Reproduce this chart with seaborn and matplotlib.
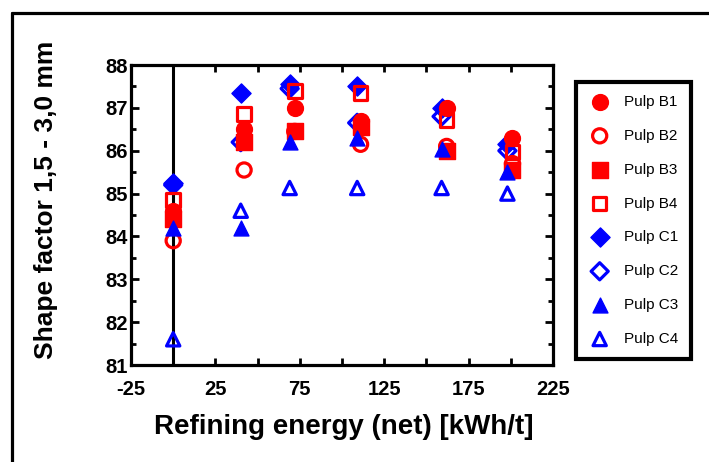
import matplotlib
matplotlib.use("Agg")
import matplotlib.pyplot as plt
from matplotlib.lines import Line2D
import seaborn as sns
import pandas as pd

# ---- data ----
energy_B = [0, 42, 72, 111, 162, 201]
energy_C = [0, 40, 69, 109, 159, 198]

pulp_B1 = [84.6, 86.5, 87.0, 86.7, 87.0, 86.3]
pulp_B2 = [83.9, 85.55, 86.45, 86.15, 86.1, 85.7]
pulp_B3 = [84.4, 86.2, 86.45, 86.55, 86.0, 85.55]
pulp_B4 = [84.85, 86.85, 87.4, 87.35, 86.72, 85.97]
pulp_C1 = [85.25, 87.35, 87.55, 87.5, 87.0, 86.15]
pulp_C2 = [85.2, 86.2, 87.45, 86.65, 86.8, 86.0]
pulp_C3 = [84.2, 84.2, 86.2, 86.3, 86.05, 85.5]
pulp_C4 = [81.6, 84.6, 85.13, 85.13, 85.13, 85.0]

x_ticklabels = ["-25", "25", "75", "125", "175", "225"]
y_ticklabels = ["81", "82", "83", "84", "85", "86", "87", "88"]

series = [
    ("Pulp B1", energy_B, pulp_B1, "#ff0000", "o", True),
    ("Pulp B2", energy_B, pulp_B2, "#ff0000", "o", False),
    ("Pulp B3", energy_B, pulp_B3, "#ff0000", "s", True),
    ("Pulp B4", energy_B, pulp_B4, "#ff0000", "s", False),
    ("Pulp C1", energy_C, pulp_C1, "#0000ff", "D", True),
    ("Pulp C2", energy_C, pulp_C2, "#0000ff", "D", False),
    ("Pulp C3", energy_C, pulp_C3, "#0000ff", "^", True),
    ("Pulp C4", energy_C, pulp_C4, "#0000ff", "^", False),
]
draw_order = ["Pulp C1", "Pulp C2", "Pulp B1", "Pulp B2", "Pulp B3", "Pulp B4", "Pulp C3", "Pulp C4"]

sns.set_theme(style="white", rc={"text.color": "black", "axes.labelcolor": "black",
                                 "xtick.color": "black", "ytick.color": "black"})
plt.rcParams["font.family"] = ["Liberation Sans", "DejaVu Sans"]

W, H = 709, 462
fig = plt.figure(figsize=(W / 100, H / 100), dpi=100)
ax = fig.add_axes([131 / W, 1 - 365 / H, (553 - 131) / W, (365 - 65) / H])

sizes = {"o": 130, "s": 120, "D": 95, "^": 115}
for name in draw_order:
    lab, xs, ys, col, mk, filled = [s for s in series if s[0] == name][0]
    df = pd.DataFrame({"energy": xs, "shape": ys})
    if filled:
        sns.scatterplot(data=df, x="energy", y="shape", ax=ax, marker=mk, s=sizes[mk],
                        color=col, edgecolor=col, linewidth=1, label=lab, zorder=3)
    else:
        sns.scatterplot(data=df, x="energy", y="shape", ax=ax, marker=mk, s=sizes[mk] * 0.8,
                        facecolor="none", edgecolor=col, linewidth=2.3, label=lab, zorder=3)

ax.axvline(0, color="black", lw=2.2, zorder=2)

ax.set_xlim(-25, 225)
ax.set_ylim(81, 88)
ax.set_xticks([-25, 25, 75, 125, 175, 225])
ax.set_xticklabels(x_ticklabels)
ax.set_xticks([0, 50, 100, 150, 200], minor=True)
ax.set_yticks(range(81, 89))
ax.set_yticklabels(y_ticklabels)
ax.set_yticks([81.5 + i for i in range(7)], minor=True)

for s in ax.spines.values():
    s.set_visible(True)
    s.set_linewidth(2.3)
    s.set_color("black")
ax.tick_params(axis="both", which="both", direction="in", top=True, right=True,
               bottom=True, left=True, width=2, color="black")
ax.tick_params(axis="x", which="both", length=5)
ax.tick_params(axis="y", which="major", length=6)
ax.tick_params(axis="y", which="minor", length=3.5)
ax.tick_params(axis="x", which="major", labelsize=14.5, pad=11)
ax.tick_params(axis="y", which="major", labelsize=14.5, pad=2)
for t in ax.get_xticklabels() + ax.get_yticklabels():
    t.set_fontweight("bold")

ax.set_xlabel("")
ax.set_ylabel("")
fig.text(344 / W, 1 - 427 / H, "Refining energy (net) [kWh/t]", fontsize=20,
         fontweight="bold", ha="center", va="center")
fig.text(46 / W, 1 - 200 / H, "Shape factor 1,5 - 3,0 mm", fontsize=19,
         fontweight="bold", ha="center", va="center", rotation=90)

h, l = ax.get_legend_handles_labels()
order = [l.index(s[0]) for s in series]
leg = ax.legend([h[i] for i in order], [l[i] for i in order],
                loc="upper left", bbox_to_anchor=(576 / W, 1 - 82 / H),
                bbox_transform=fig.transFigure, borderaxespad=0, fancybox=False,
                frameon=True, framealpha=1, fontsize=11, labelspacing=1.3,
                handlelength=1.4, handletextpad=0.9, borderpad=0.85, markerscale=1.0)
leg.get_frame().set_edgecolor("black")
leg.get_frame().set_linewidth(3)
leg.get_frame().set_facecolor("white")

# outer frame lines (left and top)
fig.add_artist(Line2D([12 / W, 12 / W], [0, 1 - 13 / H], color="black", lw=2.3,
                      transform=fig.transFigure))
fig.add_artist(Line2D([12 / W, 1], [1 - 13 / H, 1 - 13 / H], color="black", lw=2.3,
                      transform=fig.transFigure))

fig.savefig("out.png", dpi=100)
